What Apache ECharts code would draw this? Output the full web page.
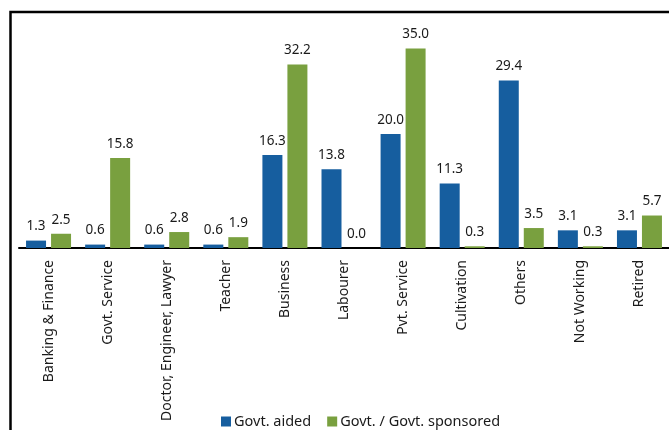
<!DOCTYPE html>
<html>
<head>
<meta charset="utf-8">
<script src="https://cdn.jsdelivr.net/npm/echarts@6/dist/echarts.min.js"></script>
<style>
  html, body { margin: 0; padding: 0; background: #fff; }
  #chart { width: 669px; height: 430px; }
</style>
</head>
<body>
<div id="chart"></div>
<script>
// Occupation categories and percentage shares for the two school types
const categories = [
  'Banking & Finance', 'Govt. Service', 'Doctor, Engineer, Lawyer', 'Teacher',
  'Business', 'Labourer', 'Pvt. Service', 'Cultivation', 'Others',
  'Not Working', 'Retired'
];
const govtAided = [1.3, 0.6, 0.6, 0.6, 16.3, 13.8, 20.0, 11.3, 29.4, 3.1, 3.1];
const govtSponsored = [2.5, 15.8, 2.8, 1.9, 32.2, 0.0, 35.0, 0.3, 3.5, 0.3, 5.7];
const seriesNames = ['Govt. aided', 'Govt. / Govt. sponsored'];

const FONT = '"Noto Sans", sans-serif';
const chart = echarts.init(document.getElementById('chart'));

const valueLabel = {
  show: true,
  position: 'top',
  distance: 7,
  color: '#1a1a1a',
  fontFamily: FONT,
  fontSize: 13.5,
  formatter: p => p.value.toFixed(1)
};

chart.setOption({
  animation: false,
  backgroundColor: '#fff',
  graphic: [{
    type: 'rect',
    silent: true,
    shape: { x: 10.5, y: 12, width: 720, height: 520 },
    style: { fill: 'none', stroke: '#000', lineWidth: 2.5 }
  }],
  legend: {
    left: 221,
    top: 414,
    padding: 0,
    itemWidth: 10,
    itemHeight: 10,
    itemGap: 16,
    icon: 'rect',
    textStyle: { color: '#1a1a1a', fontFamily: FONT, fontSize: 14.5, padding: [0, 0, 0, -2] },
    data: seriesNames
  },
  grid: { left: 19, width: 654, top: 20, bottom: 182, containLabel: false },
  xAxis: {
    type: 'category',
    data: categories,
    axisLine: { lineStyle: { color: '#000', width: 2 } },
    axisTick: { show: false },
    axisLabel: {
      rotate: 90,
      margin: 12,
      interval: 0,
      color: '#1a1a1a',
      fontFamily: FONT,
      fontSize: 14
    }
  },
  yAxis: {
    type: 'value',
    min: 0,
    max: 40,
    show: false,
    splitLine: { show: false }
  },
  series: [
    {
      name: seriesNames[0],
      type: 'bar',
      data: govtAided,
      barWidth: 20,
      barGap: '25%',
      itemStyle: { color: '#165e9f' },
      label: valueLabel
    },
    {
      name: seriesNames[1],
      type: 'bar',
      data: govtSponsored,
      barWidth: 20,
      itemStyle: { color: '#79a03f' },
      label: valueLabel
    }
  ]
});
</script>
</body>
</html>
